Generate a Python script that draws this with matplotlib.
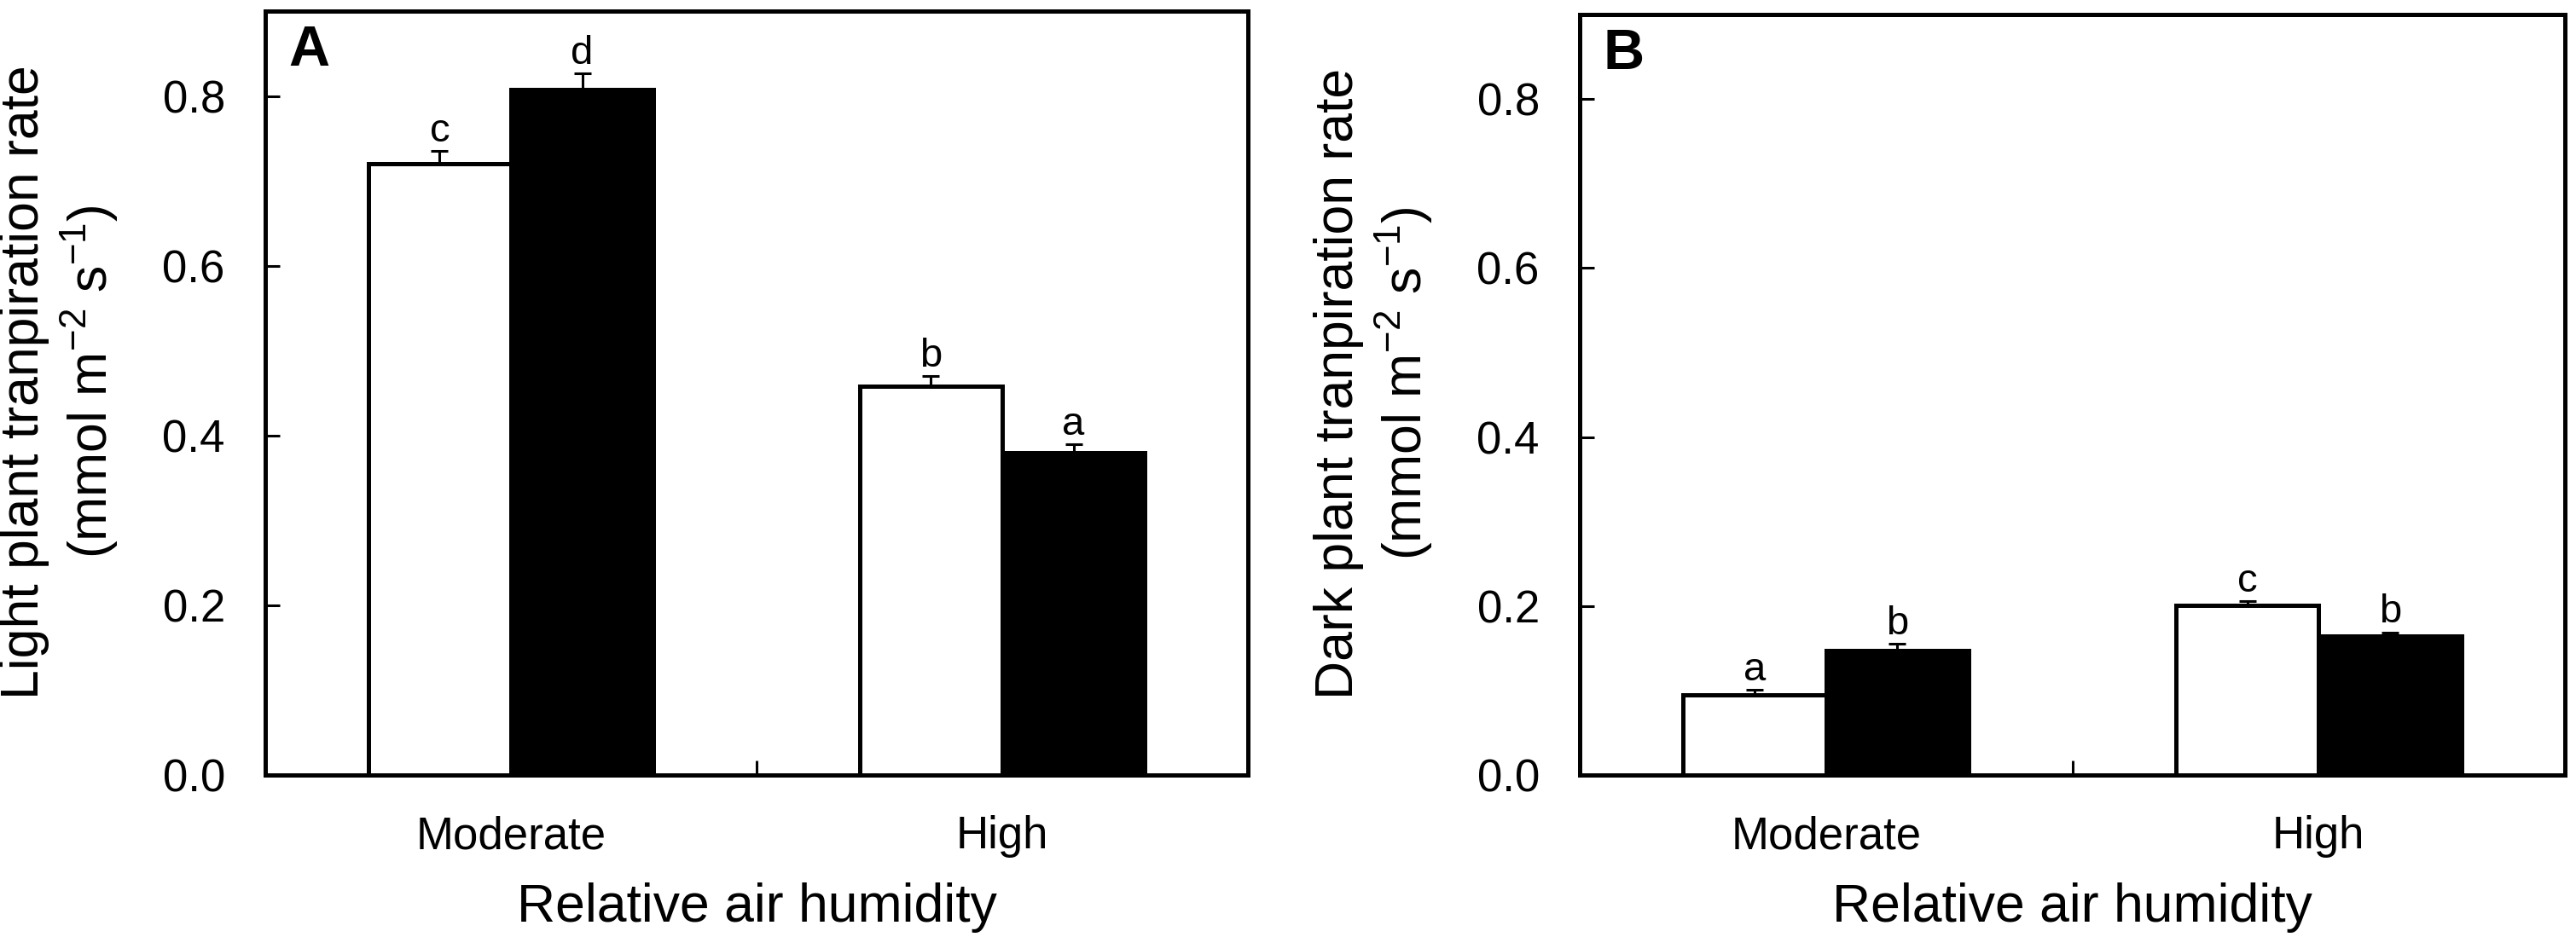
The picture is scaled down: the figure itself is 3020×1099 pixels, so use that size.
import numpy as np
import matplotlib
matplotlib.use('Agg')
import matplotlib.pyplot as plt

# ── Data ─────────────────────────────────────────────────────────────────────
categories = ['Moderate', 'High']

# Panel A: light plant transpiration rate (mmol m-2 s-1)
light_white     = [0.720, 0.458]
light_white_err = [0.015, 0.012]
light_black     = [0.808, 0.380]
light_black_err = [0.019, 0.010]
light_let_white = ['c', 'b']
light_let_black = ['d', 'a']

# Panel B: dark plant transpiration rate (mmol m-2 s-1)
dark_white      = [0.095, 0.201]
dark_white_err  = [0.006, 0.005]
dark_black      = [0.147, 0.164]
dark_black_err  = [0.008, 0.005]
dark_let_white  = ['a', 'c']
dark_let_black  = ['b', 'b']

yticks = [0.0, 0.2, 0.4, 0.6, 0.8]

plt.rcParams['font.family'] = ['Liberation Sans', 'DejaVu Sans']
plt.rcParams['mathtext.fontset'] = 'custom'
plt.rcParams['mathtext.rm'] = 'Liberation Sans'
plt.rcParams['mathtext.it'] = 'Liberation Sans:italic'

DPI = 200
FW, FH = 3020, 1099
fig = plt.figure(figsize=(FW / DPI, FH / DPI), dpi=DPI)
# axes boxes in pixels: left, bottom spine y, width, height
boxA = (311, 909, 1152, 896)
boxB = (1852, 909, 1155, 892)
axA = fig.add_axes([boxA[0] / FW, 1 - boxA[1] / FH, boxA[2] / FW, boxA[3] / FH])
axB = fig.add_axes([boxB[0] / FW, 1 - boxB[1] / FH, boxB[2] / FW, boxB[3] / FH])

W = 0.29
LW = 1.8


def panel(ax, box, white, werr, black, berr, let_w, let_b, ylabel, tag):
    x = np.arange(len(categories))
    xw, xb = x - W / 2, x + W / 2
    ax.errorbar(xw, white, yerr=werr, fmt='none', ecolor='black',
                elinewidth=1.1, capsize=3.6, capthick=1.1, zorder=1)
    ax.errorbar(xb, black, yerr=berr, fmt='none', ecolor='black',
                elinewidth=1.1, capsize=3.6, capthick=1.1, zorder=1)
    ax.bar(xw, white, W, color='white', edgecolor='black', linewidth=LW, zorder=2)
    ax.bar(xb, black, W, color='black', edgecolor='black', linewidth=LW, zorder=2)
    for xi, v, e, t in zip(list(xw) + list(xb), list(white) + list(black),
                           list(werr) + list(berr), let_w + let_b):
        ax.annotate(t, xy=(xi, v + e), xytext=(0, 4), textcoords='offset points',
                    ha='center', va='baseline', fontsize=17)

    ax.set_xlim(-0.5, 1.5)
    ax.set_ylim(0, 0.9)
    ax.set_yticks(yticks)
    ax.set_yticklabels([f'{v:.1f}' for v in yticks])
    ax.set_xticks([0.5])
    ax.set_xticklabels([''])
    ax.set_xticks(x, minor=True)
    ax.set_xticklabels(categories, minor=True)
    ax.tick_params(axis='both', which='major', direction='in', length=6,
                   width=1.1, labelsize=19)
    ax.tick_params(axis='y', pad=17)
    ax.tick_params(axis='x', which='minor', length=0, labelsize=19, pad=17)
    for s in ax.spines.values():
        s.set_linewidth(LW)
    ax.set_xlabel('Relative air humidity', fontsize=22.5, labelpad=10.5)
    ax.set_ylabel(ylabel, fontsize=22.5)
    ax.yaxis.set_label_coords(-170 / box[2], 0.5145)
    ax.annotate(tag, xy=(0, 1), xycoords='axes fraction', xytext=(10, -23),
                textcoords='offset points', ha='left', va='baseline',
                fontsize=24, fontweight='bold')


panel(axA, boxA, light_white, light_white_err, light_black, light_black_err,
      light_let_white, light_let_black,
      'Light plant tranpiration rate\n(mmol m$^{-2}$ s$^{-1}$)', 'A')
panel(axB, boxB, dark_white, dark_white_err, dark_black, dark_black_err,
      dark_let_white, dark_let_black,
      'Dark plant tranpiration rate\n(mmol m$^{-2}$ s$^{-1}$)', 'B')

fig.savefig('out.png', dpi=DPI, facecolor='white')
